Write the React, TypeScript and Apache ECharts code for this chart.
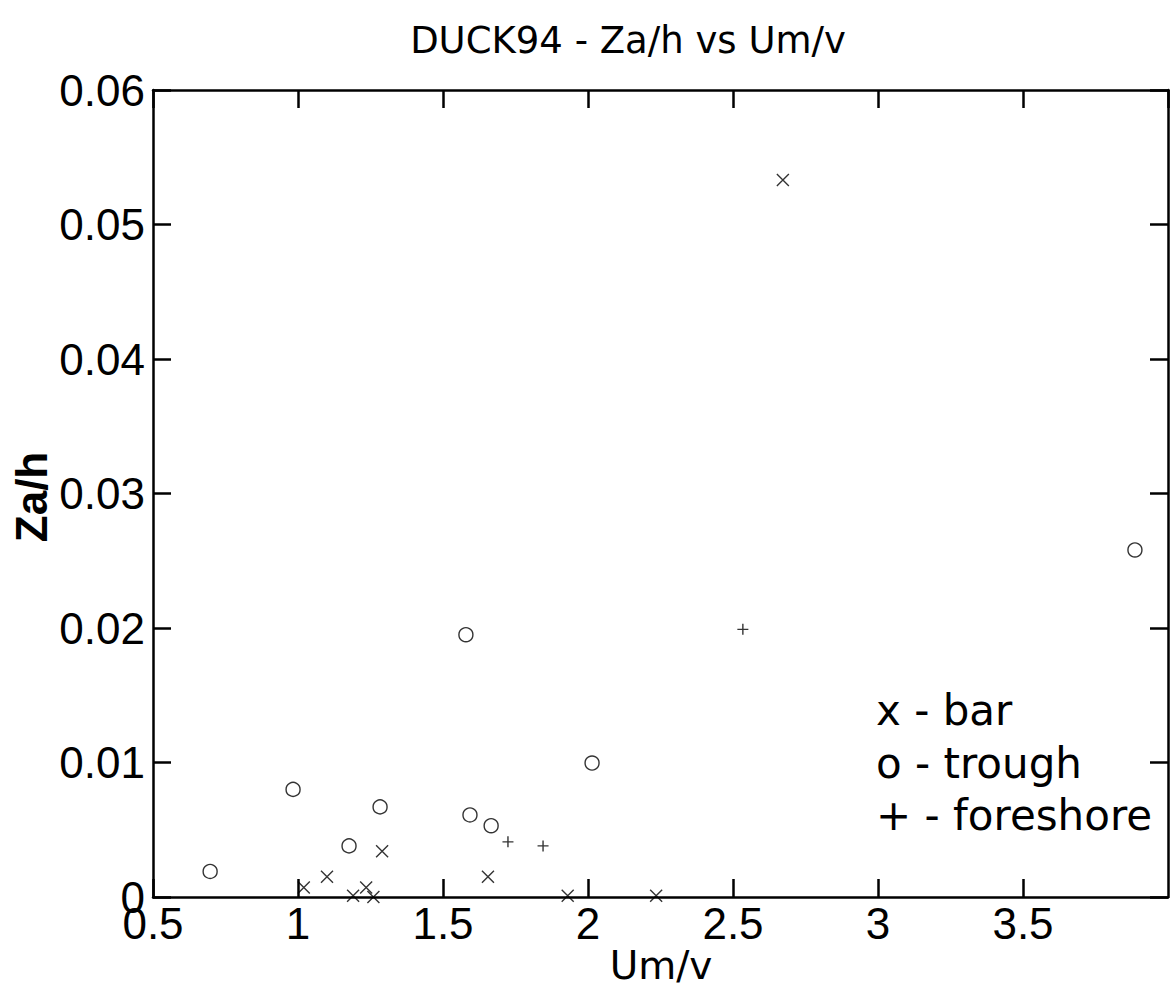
import React, { useEffect, useRef } from "react";
import * as echarts from "echarts";

const titleText = "DUCK94 - Za/h vs Um/v";
const xAxisName = "Um/v";
const yAxisName = "Za/h";
const legendLines = ["x - bar", "o - trough", "+ - foreshore"];

const xTicks = [0.5, 1, 1.5, 2, 2.5, 3, 3.5, 4];
const yTicks = [0, 0.01, 0.02, 0.03, 0.04, 0.05, 0.06];

const barPoints: [number, number][] = [
  [2.672, 0.0533],
  [1.02, 0.0007],
  [1.1, 0.0015],
  [1.29, 0.0034],
  [1.19, 0.0001],
  [1.235, 0.0007],
  [1.26, 0.0],
  [1.655, 0.0015],
  [1.93, 0.0001],
  [2.235, 0.0001],
];

const troughPoints: [number, number][] = [
  [0.697, 0.0019],
  [0.983, 0.008],
  [1.176, 0.0038],
  [1.283, 0.0067],
  [1.579, 0.0195],
  [1.593, 0.0061],
  [1.666, 0.0053],
  [2.014, 0.00996],
  [3.886, 0.0258],
];

const foreshorePoints: [number, number][] = [
  [1.724, 0.0041],
  [1.845, 0.0038],
  [2.534, 0.0199],
];

const W = 1170;
const H = 995;

export default function App() {
  const ref = useRef<HTMLDivElement>(null);

  useEffect(() => {
    if (!ref.current) return;
    const chart = echarts.init(ref.current, null, { renderer: "svg", width: W, height: H });
    const axisLine = { show: true, onZero: false, lineStyle: { color: "#000", width: 2.5 } };
    const axisTick = { show: true, inside: true, length: 18, lineStyle: { color: "#000", width: 2.5 } };
    const tickFont = { fontFamily: "Liberation Sans", fontSize: 44, color: "#000" };

    const xBase = {
      type: "value" as const,
      min: xTicks[0],
      max: xTicks[xTicks.length - 1],
      interval: 0.5,
      axisLine,
      axisTick,
      splitLine: { show: false },
    };
    const yBase = {
      type: "value" as const,
      min: yTicks[0],
      max: yTicks[yTicks.length - 1],
      interval: 0.01,
      axisLine,
      axisTick,
      splitLine: { show: false },
    };

    const markerStyle = { color: "rgba(0,0,0,0)", borderColor: "#000", borderWidth: 1.4 };

    chart.setOption({
      animation: false,
      backgroundColor: "#fff",
      grid: { left: 153, right: 2, top: 90, bottom: 98, containLabel: false },
      xAxis: [
        {
          ...xBase,
          position: "bottom",
          axisLabel: {
            ...tickFont,
            margin: 4,
            showMaxLabel: false,
            formatter: (v: number) => String(v),
          },
        },
        { ...xBase, position: "top", axisLabel: { show: false } },
      ],
      yAxis: [
        {
          ...yBase,
          position: "left",
          axisLabel: { ...tickFont, margin: 8, formatter: (v: number) => (v === 0 ? "0" : v.toFixed(2)) },
        },
        { ...yBase, position: "right", axisLabel: { show: false } },
      ],
      series: [
        {
          name: "bar",
          type: "scatter",
          xAxisIndex: 0,
          yAxisIndex: 0,
          data: barPoints,
          symbol: "path://M0,0L10,10M10,0L0,10",
          symbolSize: 12,
          itemStyle: markerStyle,
        },
        {
          name: "trough",
          type: "scatter",
          xAxisIndex: 0,
          yAxisIndex: 0,
          data: troughPoints,
          symbol: "circle",
          symbolSize: 14,
          itemStyle: markerStyle,
        },
        {
          name: "foreshore",
          type: "scatter",
          xAxisIndex: 0,
          yAxisIndex: 0,
          data: foreshorePoints,
          symbol: "path://M5,0L5,10M0,5L10,5",
          symbolSize: 11,
          itemStyle: markerStyle,
        },
      ],
      graphic: [
        {
          type: "text",
          x: 628,
          y: 40,
          style: {
            text: titleText,
            fontFamily: "DejaVu Sans",
            fontSize: 37,
            fill: "#000",
            align: "center",
            verticalAlign: "middle",
          },
        },
        {
          type: "text",
          x: 661,
          y: 965,
          style: {
            text: xAxisName,
            fontFamily: "DejaVu Sans",
            fontSize: 39,
            fill: "#000",
            align: "center",
            verticalAlign: "middle",
          },
        },
        {
          type: "text",
          x: 31,
          y: 497,
          rotation: Math.PI / 2,
          style: {
            text: yAxisName,
            fontFamily: "Liberation Sans",
            fontWeight: "bold",
            fontSize: 44,
            fill: "#000",
            align: "center",
            verticalAlign: "middle",
          },
        },
        ...legendLines.map((t, i) => ({
          type: "text",
          x: 876,
          y: [710, 763, 815][i],
          style: {
            text: t,
            fontFamily: "DejaVu Sans",
            fontSize: 42,
            fill: "#000",
            align: "left",
            verticalAlign: "middle",
          },
        })),
      ],
    });
    return () => chart.dispose();
  }, []);

  return (
    <div
      ref={ref}
      style={{ position: "fixed", left: 0, top: 0, width: W, height: H, background: "#fff" }}
    />
  );
}
